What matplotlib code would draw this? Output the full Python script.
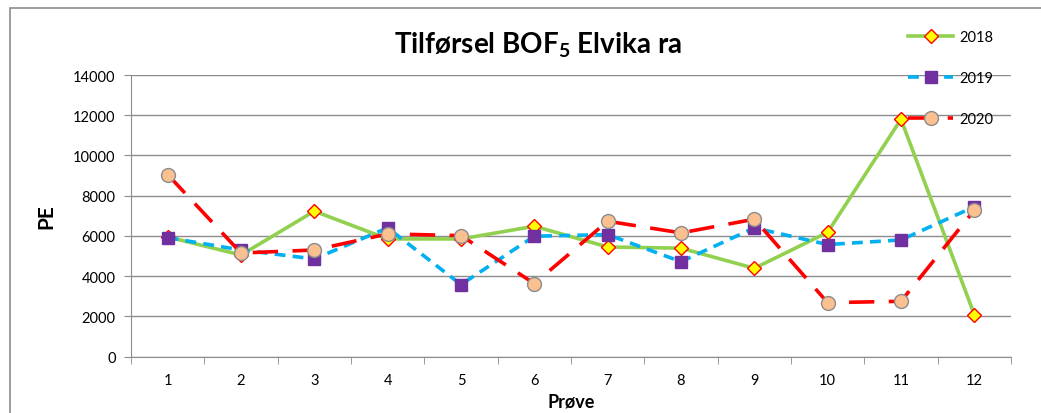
import numpy as np
import matplotlib.pyplot as plt
from matplotlib.patches import Rectangle

plt.rcParams['font.family'] = ['Lato', 'DejaVu Sans']

prove = list(range(1, 13))
v2018 = [5950, 5050, 7230, 5850, 5850, 6480, 5450, 5390, 4390, 6180, 11800, 2085]
v2019 = [5915, 5300, 4855, 6400, 3580, 5985, 6065, 4720, 6400, 5570, 5800, 7450]
v2020 = [9050, 5150, 5300, 6100, 6015, 3630, 6730, 6150, 6830, 2680, 2750, 7280]

fig = plt.figure(figsize=(10.41, 4.14), dpi=100)
ax = fig.add_axes([131 / 1041, 1 - 357.6 / 414, 880 / 1041, (357.6 - 76) / 414])

# chart area frame
fig.patches.append(Rectangle((10 / 1041, -0.1), 1.2, (414 - 9) / 414 + 0.1,
                             transform=fig.transFigure, fill=False,
                             edgecolor='#8c8c8c', linewidth=1.2))

ax.plot(prove, v2018, color='#92D050', lw=2.6, marker='D', markersize=7,
        markerfacecolor='#FFFF00', markeredgecolor='#FF0000', markeredgewidth=1,
        label='2018', zorder=3)
ax.plot(prove, v2019, color='#00B0F0', lw=2.6, dashes=(3, 2), marker='s', markersize=9,
        markerfacecolor='#7030A0', markeredgecolor='#7030A0',
        label='2019', zorder=4)
ax.plot(prove, v2020, color='#FF0000', lw=2.6, dashes=(7, 4), marker='o', markersize=10,
        markerfacecolor='#FAC090', markeredgecolor='#8c8c8c', markeredgewidth=1,
        label='2020', zorder=5)

ax.set_xlim(0.5, 12.5)
ax.set_ylim(0, 14000)
ax.set_yticks(np.arange(0, 14001, 2000))
ax.set_xticks(prove)
ax.set_xticks(np.arange(0.5, 12.6, 1), minor=True)
ax.tick_params(axis='x', which='major', length=0, labelsize=10.5, pad=12)
ax.tick_params(axis='x', which='minor', length=5, color='#8c8c8c', direction='in')
ax.tick_params(axis='y', length=5, color='#8c8c8c', labelsize=10.5, pad=6)
ax.grid(axis='y', color='#8c8c8c', lw=1)
ax.set_axisbelow(True)
for s in ['top', 'right']:
    ax.spines[s].set_visible(False)
for s in ['left', 'bottom']:
    ax.spines[s].set_color('#8c8c8c')

# x minor ticks point downward from the axis
for t in ax.xaxis.get_minor_ticks():
    t.tick1line.set_marker(3)

ax.set_ylabel('PE', fontsize=15, fontweight='bold', labelpad=12)
ax.set_xlabel('Prøve', fontsize=13, fontweight='bold', labelpad=4)
fig.text(538 / 1041, 1 - 45 / 414, 'Tilførsel BOF$_\\mathregular{5}$ Elvika ra',
         fontsize=20, fontweight='bold', ha='center', va='center')

ax.legend(loc='upper left', bbox_to_anchor=(908 / 1041, 1 - 31 / 414),
          bbox_transform=fig.transFigure, frameon=False, fontsize=10.5,
          handlelength=3.1, labelspacing=1.85, borderpad=0, borderaxespad=0,
          handletextpad=0.4)

fig.savefig('out.png', dpi=100)
